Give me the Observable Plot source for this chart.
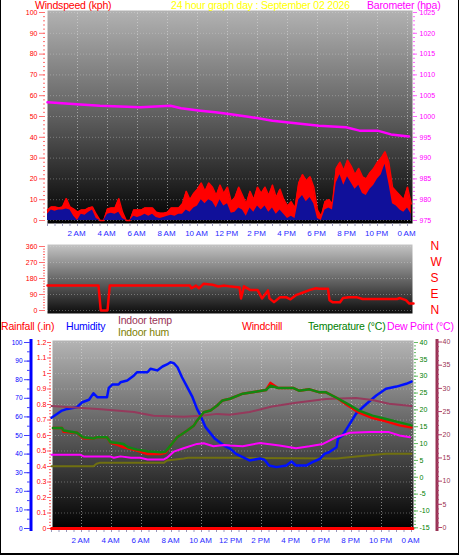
<!DOCTYPE html>
<html><head><meta charset="utf-8">
<script src="https://cdn.jsdelivr.net/npm/d3@7"></script>
<script src="https://cdn.jsdelivr.net/npm/@observablehq/plot@0.6"></script>
<style>
html,body{margin:0;padding:0;background:#fff}
#c{position:relative;width:459px;height:555px;overflow:hidden;background:#fff;font-family:"Liberation Sans",Arial,sans-serif}
#border{position:absolute;left:0;top:0;width:459px;height:555px;box-sizing:border-box;border-left:1px solid #000;border-right:1px solid #000;border-bottom:2px solid #000;pointer-events:none}
.t{position:absolute;font-size:10.5px;line-height:11px;letter-spacing:-0.2px;white-space:nowrap}
.t.h{line-height:10px}
</style></head><body>
<svg width="0" height="0" style="position:absolute">
<defs>
<linearGradient id="gTop" x1="0" y1="0" x2="0" y2="1"><stop offset="0" stop-color="#b2b2b2"/><stop offset="0.5" stop-color="#5e5e5e"/><stop offset="1" stop-color="#000"/></linearGradient>
<linearGradient id="gMid" x1="0" y1="0" x2="0" y2="1"><stop offset="0" stop-color="#c4c4c4"/><stop offset="1" stop-color="#0c0c0c"/></linearGradient>
<linearGradient id="gBot" x1="0" y1="0" x2="0" y2="1"><stop offset="0" stop-color="#b4b4b4"/><stop offset="0.5" stop-color="#5a5a5a"/><stop offset="1" stop-color="#000"/></linearGradient>
</defs></svg>
<div id="c"></div>
<script>
// ---------- data ----------
const windHours = [0,0.25,0.5,0.75,1,1.25,1.5,1.75,2,2.25,2.5,2.75,3,3.25,3.5,3.75,4,4.25,4.5,4.75,5,5.25,5.5,5.75,6,6.25,6.5,6.75,7,7.25,7.5,7.75,8,8.25,8.5,8.75,9,9.25,9.5,9.75,10,10.25,10.5,10.75,11,11.25,11.5,11.75,12,12.25,12.5,12.75,13,13.25,13.5,13.75,14,14.25,14.5,14.75,15,15.25,15.5,15.75,16,16.25,16.5,16.75,17,17.25,17.5,17.75,18,18.25,18.5,18.75,19,19.25,19.5,19.75,20,20.25,20.5,20.75,21,21.25,21.5,21.75,22,22.25,22.5,22.75,23,23.25,23.5,23.75,24,24.25];
const windGust = [5,6.5,6.5,6, 6.5,10.5,6.5,5.5, 4,5,5,6, 6.5,3,0,0, 5.5,6,6,10.5, 4,0,0,5, 5,5,6,6, 6,4,3.5,3.5, 4,6,6,6, 8,14,10,13, 15,18,14,18, 16,12,17,13, 16,9,11,16, 12,8,14,10, 16,13,16,12, 17,11,15,10, 7,9,6,18, 22,19,21,16, 5,2,9,10, 8,25,28,24, 29,26,22,25, 21,20,23,25, 28,30,33,28, 16,14,12,10, 16,8];
const windAvg = [3,5,4.5,5, 5,5.5,5,2, 0,3,2.5,4, 5,1,0,0, 3,3.5,3,4, 1,0,0,2, 1.5,2,3,2, 3,1.5,1,1.5, 2,2.5,2,3, 3,5,4,6, 7,10,8,10, 9,6,10,7, 8,3.5,4,6, 5,2,6,4, 7,5,7,4, 6,3,5,3, 1,2,1,10, 12,9,11,8, 1,0,5,6, 5,18,22,17, 21,18,15,17, 13,12,15,17, 20,22,27,18, 8,7,5,4, 6,3];
const baroSeries = [[0,1003.4],[2.2,1002.9],[3.5,1002.6],[6.2,1002.2],[8.2,1002.6],[8.9,1002.0],[10.2,1001.4],[11.2,1001.0],[12.1,1000.6],[13.5,999.9],[15,999.0],[18.1,997.8],[19.9,997.4],[20.8,996.6],[22,996.6],[22.9,995.7],[24.1,995.2]];
const windDir = [[0,140],[3.4,140],[3.55,0],[4.0,0],[4.15,140],[9.5,140],[9.6,125],[9.9,140],[10.1,125],[10.4,150],[11.0,145],[11.4,135],[11.8,140],[12.1,136],[12.8,130],[12.9,68],[13.1,136],[13.5,116],[14.0,116],[14.3,68],[14.7,113],[14.8,68],[15.1,47],[15.5,75],[15.9,75],[16.2,63],[16.6,88],[17.0,100],[17.5,116],[17.9,125],[18.1,122],[18.7,122],[18.8,58],[19.0,47],[19.5,47],[19.7,70],[20.1,75],[20.6,75],[21.0,65],[23.3,65],[23.5,70],[23.9,58],[24.1,40],[24.4,40]];
const humidity = [[0,59.5],[0.7,63.4],[1.05,64.3],[1.7,65.2],[2.05,67.9],[2.5,69.2],[2.8,72.7],[3.05,70.6],[3.7,70.6],[3.82,75.6],[4.05,77.4],[4.47,77.4],[4.6,78.6],[5.05,79.6],[5.5,82.3],[5.7,84],[6.4,84],[6.6,85.9],[7.05,85],[7.4,87.1],[7.7,88.2],[7.93,89.4],[8.15,88.9],[8.4,86.7],[8.7,81.3],[9.05,76],[9.4,70.6],[9.7,64.3],[9.93,60.8],[10.27,54.5],[10.9,48.2],[11.5,44.6],[11.9,43],[12.3,40.1],[13.2,36.6],[13.9,37.6],[14.2,37],[14.5,33.9],[15.0,33],[15.65,33.9],[16.0,36],[16.3,33.9],[17.0,33.9],[17.4,35.7],[17.9,37.5],[18.2,40.1],[18.5,41],[19.0,43.7],[19.1,48.2],[19.4,50],[19.75,54.5],[20.3,61.7],[20.75,65.2],[21.2,68.4],[21.65,71.5],[22.3,75.1],[23.0,76.3],[23.65,77.8],[24.0,79]];
const indoorHum = [[0,33.5],[2.8,33.5],[3.0,34.8],[3.2,35.3],[7.5,35.3],[7.7,36.6],[8.8,37.6],[9.1,38],[12,38],[19,37.6],[20.5,38.9],[22.3,40.2],[24,40.2]];
const indoorTemp = [[0,26.2],[1.5,25.9],[3.3,25.5],[5.5,24.9],[6.8,24.1],[8.8,23.9],[10,24.1],[11.05,24.5],[11.9,24.3],[13.2,24.9],[14.7,26.1],[16.3,26.9],[18.3,27.7],[20.3,27.9],[21.4,27.5],[22.5,26.7],[24,26.2]];
const tempHours = [0.1,0.7,0.8,1.7,2.1,2.8,3.05,3.7,3.93,4.4,4.8,5.1,5.7,6.4,7.27,7.6,7.93,8.38,9.05,9.5,9.7,10.15,10.6,11.05,11.4,11.9,12.75,13.6,14.3,14.6,15.1,16.1,16.5,17.2,17.87,18.3,19.0,19.65,20.5,21.4,22.3,23.2,24.0];
const temperature = [14.6,14.6,13.9,13.2,11.9,11.5,11.9,11.9,10.4,10.2,9.9,8.9,8.2,7.7,7.4,7.6,9.4,11.9,13.9,15.4,16.8,19.3,19.8,21.3,22.8,23.3,24.8,25.4,25.9,27.2,26.5,26.5,25.7,26.1,25.2,25.2,23.6,22.0,19.8,18.3,17.3,16.3,15.4];
const windchill = [14.6,14.6,13.5,13.2,11.6,11.5,11.9,11.9,10.2,9.6,8.9,8.6,7.9,6.9,6.9,7.3,9.4,11.9,13.9,15.4,16.8,19.3,19.8,21.3,22.8,23.3,24.8,25.4,25.9,28.0,26.5,26.5,25.7,26.1,25.2,25.2,23.6,21.6,19.2,17.6,16.6,15.4,14.8];
const dewPoint = [[0,6.7],[1.9,6.7],[2.15,6.2],[3.9,6.2],[4.15,5.8],[4.6,6.2],[5.3,5.8],[5.9,5.8],[6.4,5.3],[7.5,5.3],[7.7,5.8],[8.15,7.6],[8.8,8.6],[9.7,9.9],[10.15,10.1],[10.8,9.2],[11.5,9.6],[11.9,9.4],[12.75,9.2],[13.9,10.2],[15.2,9.4],[16.3,8.6],[17.2,9.2],[18.1,9.9],[19.0,11.9],[19.9,13.2],[21.2,13.4],[22.5,13.4],[23.2,12.4],[23.9,11.9]];
const rainfall = [[0,0],[24.1,0]];

// ---------- tick labels ----------
const xLabelHours = [2,4,6,8,10,12,14,16,18,20,22,24];
const xLabels = ["2 AM","4 AM","6 AM","8 AM","10 AM","12 PM","2 PM","4 PM","6 PM","8 PM","10 PM","0 AM"];
const windTicks = [0,10,20,30,40,50,60,70,80,90,100];
const baroTicks = [975,980,985,990,995,1000,1005,1010,1015,1020,1025];
const dirTicks = [0,90,180,270,360];
const compass = ["N","E","S","W","N"];
const rainTicks = [0,0.1,0.2,0.3,0.4,0.5,0.6,0.7,0.8,0.9,1,1.1,1.2];
const humTicks = [0,10,20,30,40,50,60,70,80,90,100];
const tempTicks = [-15,-10,-5,0,5,10,15,20,25,30,35,40];
const inTempTicks = [0,5,10,15,20,25,30,35,40];

// ---------- build ----------
const wind = windHours.map((h,i)=>({h, gust: windGust[i], avg: windAvg[i]}));
const pts = a => a.map(([h,v])=>({h,v}));
const temps = tempHours.map((h,i)=>({h, t: temperature[i], wc: windchill[i]}));
const halfHours = d3.range(0, 24.01, 0.5);
const fmtX = d => xLabels[xLabelHours.indexOf(d)];
const blank = () => "";
const str = d => String(d);
const FONT = '"Liberation Sans", Arial, sans-serif';
const root = document.getElementById("c");
function add(opts){
  const svg = Plot.plot(Object.assign({width:459, height:555, style:{background:"transparent", fontFamily:FONT, fontSize:"7px", overflow:"visible"}}, opts));
  svg.style.position="absolute"; svg.style.left="0"; svg.style.top="0";
  root.appendChild(svg);
}
const grid = {stroke:"#e0e0e0", strokeOpacity:0.55, strokeDasharray:"1 2"};
const topX = {domain:[0,24], range:[47,407]};
const botX = {domain:[0,24], range:[51,411]};
const topXn = {...topX, axis:null};
const botXn = {...botX, axis:null};
const topM = {marginLeft:47, marginRight:47, marginTop:10, marginBottom:332};
const midM = {marginLeft:47, marginRight:47, marginTop:244, marginBottom:242};
const botM = {marginLeft:52, marginRight:46, marginTop:340, marginBottom:26};

// top: wind speed
add({...topM, x:topX, y:{domain:[0,100], range:[220,12]}, marks:[
  Plot.frame({fill:"url(#gTop)", stroke:"none"}),
  Plot.gridX({ticks:xLabelHours, ...grid}),
  Plot.gridY({ticks:windTicks, ...grid, strokeOpacity:0.35}),
  Plot.areaY(wind, {x:"h", y:"gust", fill:"#ff0000"}),
  Plot.lineY(wind, {x:"h", y:"gust", stroke:"#ff0000", strokeWidth:1.5}),
  Plot.areaY(wind, {x:"h", y:"avg", fill:"#10109a"}),
  Plot.axisY({ticks:d3.range(0,101,2), tickSize:2, dx:-2, stroke:"#ff7070", tickFormat:blank, label:null}),
  Plot.axisY({ticks:windTicks, tickSize:6, dx:-2, tickPadding:2, stroke:"#ff7070", color:"#ff0000", tickFormat:str, fontSize:7, label:null}),
  Plot.axisX({ticks:halfHours, tickSize:3, stroke:"#9999bb", tickFormat:blank, label:null}),
  Plot.axisX({ticks:xLabelHours, tickSize:0, tickPadding:7, tickFormat:fmtX, color:"#2a2aff", fontSize:8, dx:-1, label:null})
]});
// top: barometer
add({...topM, x:topXn, y:{domain:[975,1025], range:[220,12]}, marks:[
  Plot.line(pts(baroSeries), {x:"h", y:"v", stroke:"#ff00ff", strokeWidth:2.5}),
  Plot.axisY({anchor:"right", ticks:d3.range(975,1026,1), tickSize:2, stroke:"#ff66ff", tickFormat:blank, label:null}),
  Plot.axisY({anchor:"right", ticks:baroTicks, tickSize:4, tickPadding:3, stroke:"#ff66ff", color:"#ff00ff", tickFormat:str, fontSize:7, label:null})
]});
// middle: wind direction
add({...midM, x:topXn, y:{domain:[0,360], range:[310,246]}, marks:[
  Plot.frame({fill:"url(#gMid)", stroke:"none"}),
  Plot.gridY({ticks:dirTicks, ...grid, strokeOpacity:0.35}),
  Plot.line(pts(windDir), {x:"h", y:"v", stroke:"#ff0000", strokeWidth:2.5}),
  Plot.axisY({ticks:d3.range(0,361,15), tickSize:2, dx:-2, stroke:"#ff7070", tickFormat:blank, label:null}),
  Plot.axisY({ticks:dirTicks, tickSize:6, dx:-2, tickPadding:2, stroke:"#ff7070", color:"#ff0000", tickFormat:str, fontSize:7, label:null}),
  Plot.axisY({anchor:"right", ticks:dirTicks, tickSize:0, tickPadding:18, tickFormat:d=>compass[dirTicks.indexOf(d)], color:"#ff0000", fontSize:12, label:null})
]});
// bottom: rainfall + background
add({...botM, x:botX, y:{domain:[0,1.2], range:[528,342]}, marks:[
  Plot.frame({fill:"url(#gBot)", stroke:"none"}),
  Plot.gridX({ticks:xLabelHours, ...grid}),
  Plot.gridY({ticks:rainTicks, ...grid, strokeOpacity:0.35}),
  Plot.axisY({ticks:d3.range(0,1.201,0.02), tickSize:2, dx:-1, stroke:"#ff6060", tickFormat:blank, label:null}),
  Plot.axisY({ticks:rainTicks, tickSize:4, dx:-1, tickPadding:1, stroke:"#ff6060", color:"#ff0000", tickFormat:str, fontSize:7, label:null}),
  Plot.axisX({ticks:halfHours, tickSize:3, stroke:"#9999bb", tickFormat:blank, label:null}),
  Plot.axisX({ticks:xLabelHours, tickSize:0, tickPadding:8, tickFormat:fmtX, color:"#2a2aff", fontSize:8, dx:-1, label:null}),
  Plot.line(pts(rainfall), {x:"h", y:"v", stroke:"#ff0000", strokeWidth:3})
]});
// bottom: humidity
add({...botM, x:botXn, y:{domain:[0,100], range:[528,342]}, marks:[
  Plot.frame({anchor:"left", dx:-21.5, stroke:"#0000ff", strokeWidth:3}),
  Plot.axisY({ticks:d3.range(0,101,5), tickSize:3, dx:-22, stroke:"#4040ff", tickFormat:blank, label:null}),
  Plot.axisY({ticks:humTicks, tickSize:6, dx:-22, tickPadding:2, stroke:"#4040ff", color:"#0000ff", tickFormat:str, fontSize:6.5, label:null}),
  Plot.line(pts(indoorHum), {x:"h", y:"v", stroke:"#707010", strokeWidth:2}),
  Plot.line(pts(humidity), {x:"h", y:"v", stroke:"#0010ff", strokeWidth:2.5})
]});
// bottom: indoor temp
add({...botM, x:botXn, y:{domain:[0,40], range:[527,341.5]}, marks:[
  Plot.frame({anchor:"right", dx:23.5, stroke:"#993355", strokeWidth:3}),
  Plot.axisY({anchor:"right", ticks:d3.range(0,41,1), tickSize:2, dx:23, stroke:"#b04070", tickFormat:blank, label:null}),
  Plot.axisY({anchor:"right", ticks:inTempTicks, tickSize:5, dx:23, tickPadding:1, stroke:"#b04070", color:"#993355", tickFormat:str, fontSize:7, label:null}),
  Plot.line(pts(indoorTemp), {x:"h", y:"v", stroke:"#953a5c", strokeWidth:2})
]});
// bottom: temperature, windchill, dew point
add({...botM, x:botXn, y:{domain:[-15,40], range:[527.3,342]}, marks:[
  Plot.axisY({anchor:"right", ticks:d3.range(-15,41,1), tickSize:2, stroke:"#66bb66", tickFormat:blank, label:null}),
  Plot.axisY({anchor:"right", ticks:tempTicks, tickSize:4, tickPadding:2, stroke:"#66bb66", color:"#008000", tickFormat:str, fontSize:7, label:null}),
  Plot.line(pts(dewPoint), {x:"h", y:"v", stroke:"#ff00ff", strokeWidth:2}),
  Plot.line(temps, {x:"h", y:"wc", stroke:"#ff0000", strokeWidth:2.5}),
  Plot.line(temps, {x:"h", y:"t", stroke:"#118811", strokeWidth:2.5})
]});

// ---------- texts ----------
const texts = [
  ["Windspeed (kph)", 35, 0, "#ff0000", "t h"],
  ["24 hour graph day : September 02 2026", 171, 0, "#ffff00", "t h"],
  ["Barometer (hpa)", 367, 0, "#ff00ff", "t h"],
  ["Rainfall (.in)", 1, 321, "#ff0000", "t"],
  ["Humidity", 66, 321, "#0000ff", "t"],
  ["Indoor temp", 118, 315, "#993355", "t"],
  ["Indoor hum", 118, 327, "#808000", "t"],
  ["Windchill", 242, 321, "#ff0000", "t"],
  ["Temperature (°C)", 308, 321, "#008000", "t"],
  ["Dew Point (°C)", 387, 321, "#ff00ff", "t"]
];
for (const [s,x,y,c,cls] of texts){
  const d = document.createElement("div");
  d.className = cls; d.textContent = s;
  d.style.left = x+"px"; d.style.top = y+"px"; d.style.color = c;
  root.appendChild(d);
}
const b = document.createElement("div"); b.id = "border"; root.appendChild(b);
</script>
</body></html>
